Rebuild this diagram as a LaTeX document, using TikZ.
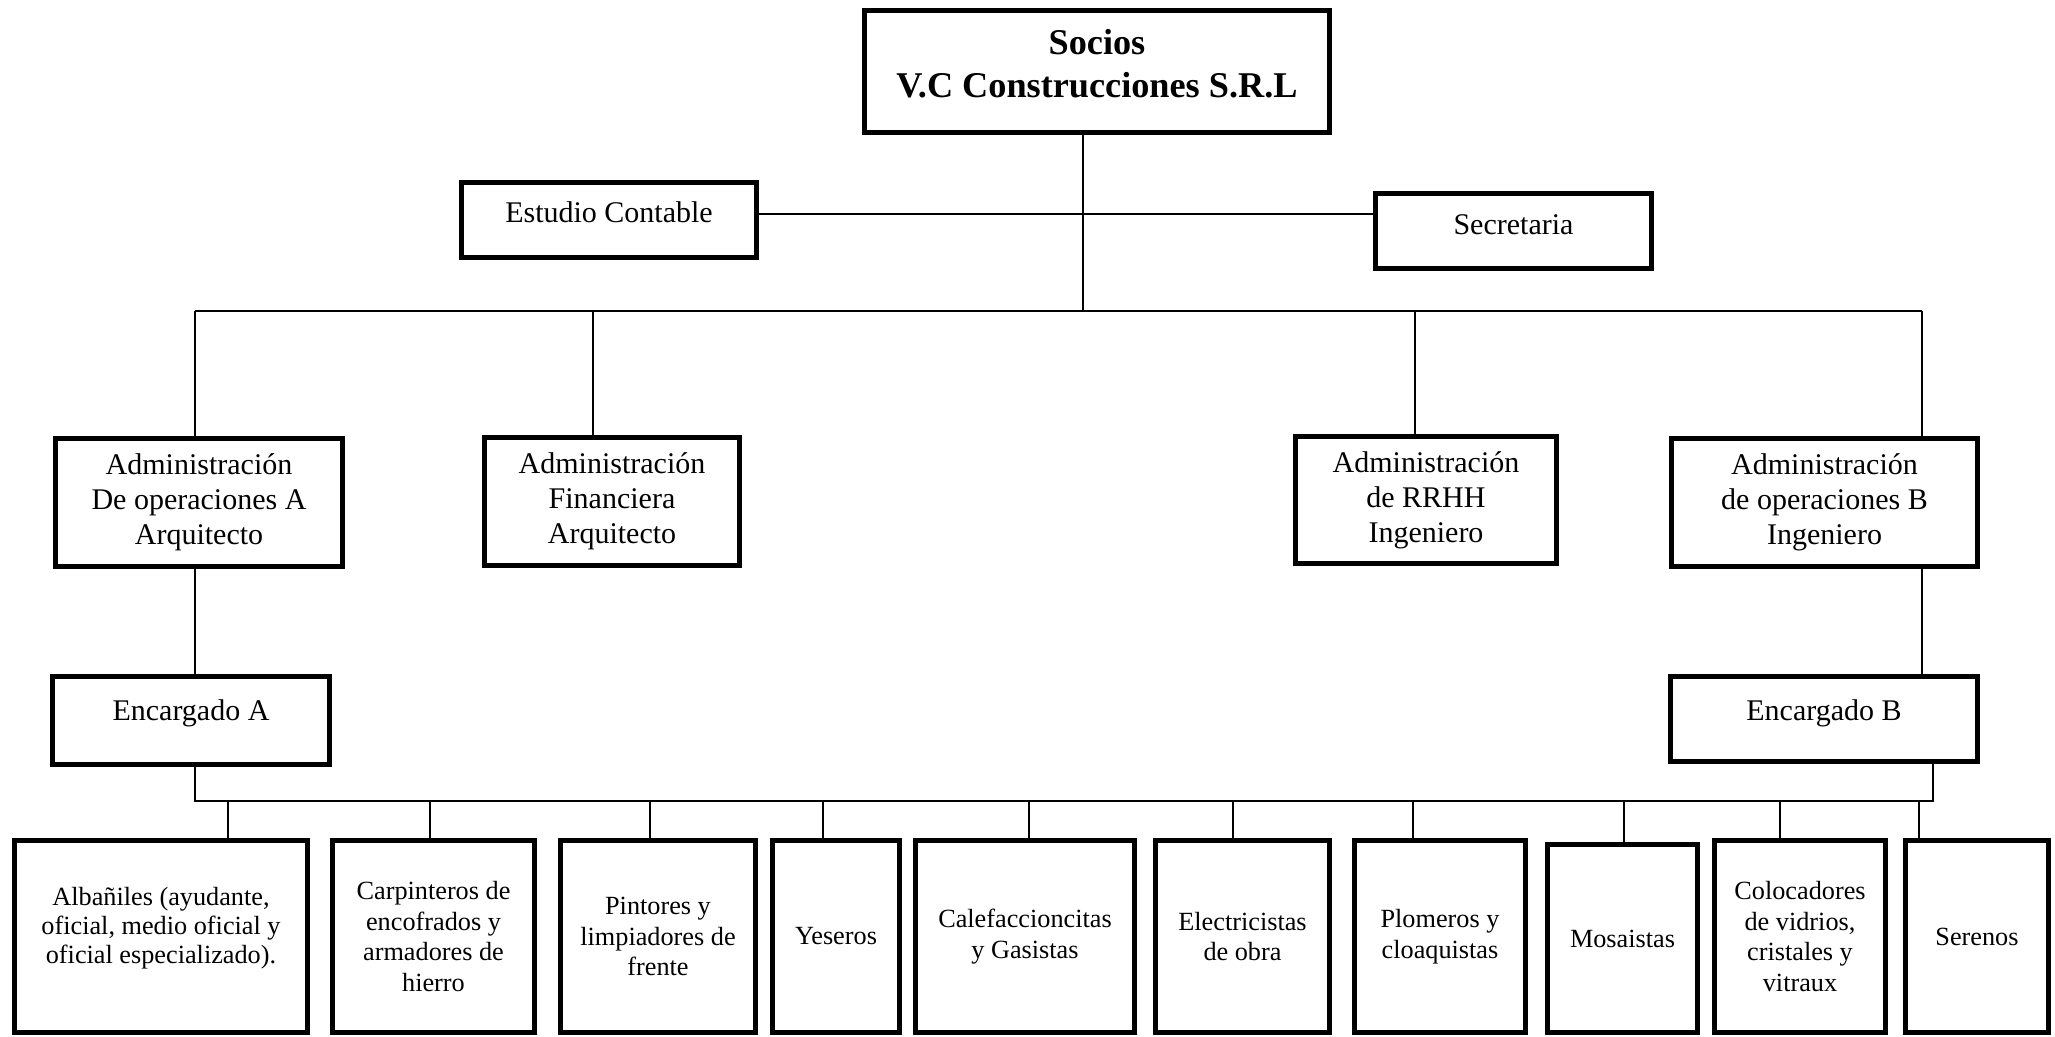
\documentclass[tikz,border=0pt]{standalone}
\usepackage{fontspec}
\setmainfont{Liberation Serif}
\usetikzlibrary{positioning}
\tikzset{
	orgnode/.style={
			shape=rectangle,
			draw=black,
			line width=2pt,
			fill=white,
			align=center,
			inner sep=2pt,
			font=\fontsize{12}{14}\selectfont
		},
	headnode/.style={
			orgnode,
			font=\fontsize{14.5}{17}\selectfont\bfseries
		},
	worknode/.style={
			orgnode,
			minimum height=76.8pt,
			font=\fontsize{10.5}{12.2}\selectfont
		},
	raised/.style={
			text depth=#1
		}
}
\tikzset{
	linkline/.style={line width=0.6pt, draw=black}
}
\begin{document}
\begin{tikzpicture}[x=0.4pt, y=-0.4pt]
              \useasboundingbox (0,0) rectangle (2055,1037);

              % top levels
              \node[headnode, raised=6.3pt, minimum width=186pt, minimum height=48.8pt] (socios) at (1097,71.5) {Socios\\V.C Construcciones S.R.L};
              \node[orgnode, raised=6.3pt, minimum width=118pt, minimum height=30pt] (estudio) at (609,220) {Estudio Contable};
              \node[orgnode, raised=5.2pt, minimum width=110.4pt, minimum height=30pt] (secretaria) at (1513.5,231) {Secretaria};

              \node[orgnode, minimum width=114.8pt, minimum height=51.2pt] (adminA) at (199,502.5) {Administración\\De operaciones A\\Arquitecto};
              \node[orgnode, minimum width=102pt, minimum height=51.2pt] (adminF) at (612,501.5) {Administración\\Financiera\\Arquitecto};
              \node[orgnode, minimum width=104.4pt, minimum height=50.8pt] (adminR) at (1426,500) {Administración\\de RRHH\\Ingeniero};
              \node[orgnode, minimum width=122.4pt, minimum height=51.2pt] (adminB) at (1824.5,502.5) {Administración\\de operaciones B\\Ingeniero};

              \node[orgnode, raised=8.5pt, minimum width=110.8pt, minimum height=35.2pt] (encA) at (191,720.5) {Encargado A};
              \node[orgnode, raised=7.4pt, minimum width=122.8pt, minimum height=34pt] (encB) at (1824,719) {Encargado B};

              % workers
              \node[worknode, raised=9pt, font=\fontsize{10.5}{11.5}\selectfont, minimum width=117.2pt] (alb) at (161,936.5) {Albañiles (ayudante,\\oficial, medio oficial y\\oficial especializado).};
              \node[worknode, minimum width=80.8pt] (carp) at (433.5,936.5) {Carpinteros de\\encofrados y\\armadores de\\hierro};
              \node[worknode, minimum width=78pt] (pint) at (658,936.5) {Pintores y\\limpiadores de\\frente};
              \node[worknode, minimum width=50.8pt] (yes) at (836,936.5) {Yeseros};
              \node[worknode, minimum width=87.6pt] (calef) at (1025,936.5) {Calefaccioncitas\\y Gasistas};
              \node[worknode, minimum width=69.6pt] (elec) at (1242.5,936.5) {Electricistas\\de obra};
              \node[worknode, minimum width=68.4pt] (plom) at (1440,936.5) {Plomeros y\\cloaquistas};
              \node[worknode, minimum width=60pt, minimum height=75.2pt] (mos) at (1622.5,938.5) {Mosaistas};
              \node[worknode, minimum width=68.4pt] (coloc) at (1800,936.5) {Colocadores\\de vidrios,\\cristales y\\vitraux};
              \node[worknode, minimum width=57.2pt] (ser) at (1977,936.5) {Serenos};

              % lines
              \coordinate (hub) at (1083,311);
              \coordinate (staff) at (1083,214);
              \coordinate (busA) at (195,311);
              \coordinate (busF) at (593,311);
              \coordinate (busR) at (1415,311);
              \coordinate (busB) at (1922,311);
              \coordinate (lowA) at (195,801);
              \coordinate (lowB) at (1933,801);

              \draw[linkline] (socios.south -| hub) -- (hub);
              \draw[linkline] (estudio.east |- staff) -- (secretaria.west |- staff);
              \draw[linkline] (busA) -- (busB);
              \draw[linkline] (busA) -- (adminA.north -| busA);
              \draw[linkline] (busF) -- (adminF.north -| busF);
              \draw[linkline] (busR) -- (adminR.north -| busR);
              \draw[linkline] (busB) -- (adminB.north -| busB);
              \draw[linkline] (adminA.south -| busA) -- (encA.north -| busA);
              \draw[linkline] (adminB.south -| busB) -- (encB.north -| busB);
              \draw[linkline] (encA.south -| lowA) -- (lowA) -- (lowB) -- (encB.south -| lowB);

              \foreach \x/\n in {228/alb, 430/carp, 650/pint, 823/yes, 1029/calef, 1233/elec, 1413/plom, 1624/mos, 1780/coloc, 1919/ser} {
                \coordinate (d\n) at (\x,801);
                \draw[linkline] (d\n) -- (d\n |- \n.north);
              }

            \end{tikzpicture}
\end{document}
